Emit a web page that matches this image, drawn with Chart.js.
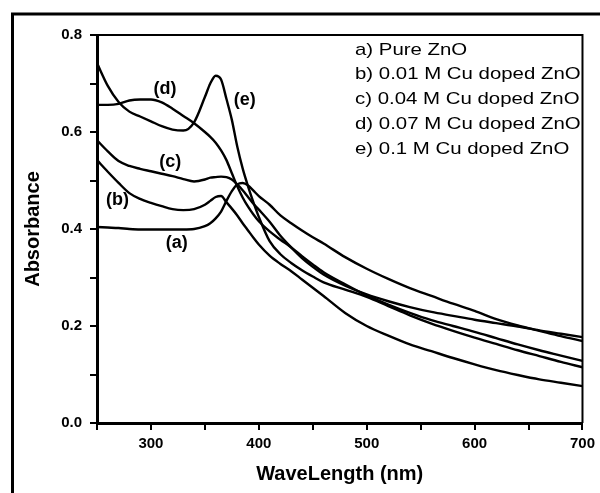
<!DOCTYPE html>
<html>
<head>
<meta charset="utf-8">
<script src="https://cdn.jsdelivr.net/npm/chart.js@4.4.1/dist/chart.umd.min.js"></script>
<style>
  html, body { margin: 0; padding: 0; background: #fff; }
  canvas { display: block; }
</style>
</head>
<body>
<canvas id="grafica" width="600" height="493"></canvas>
<script>
// longitud de onda (nm), comun a las cinco curvas
const wl = [250, 260, 270, 280, 290, 300, 310, 320, 330, 340, 350, 355, 360, 365, 370, 375, 380, 385, 390, 395,
            400, 410, 420, 430, 440, 450, 460, 480, 500, 520, 540, 560, 580, 600, 620, 640, 660, 680, 700];

// absorbancia
const absA = [0.404, 0.403, 0.402, 0.400, 0.399, 0.399, 0.399, 0.399, 0.399, 0.400, 0.406, 0.412, 0.422, 0.436, 0.458, 0.478, 0.492, 0.495, 0.490, 0.479,
              0.468, 0.450, 0.428, 0.412, 0.397, 0.383, 0.370, 0.342, 0.318, 0.297, 0.278, 0.262, 0.246, 0.231, 0.214, 0.201, 0.190, 0.179, 0.169];
const absB = [0.542, 0.518, 0.495, 0.474, 0.462, 0.454, 0.447, 0.441, 0.439, 0.441, 0.450, 0.458, 0.466, 0.468, 0.455, 0.442, 0.428, 0.412, 0.397, 0.382,
              0.368, 0.345, 0.328, 0.313, 0.296, 0.279, 0.262, 0.227, 0.200, 0.180, 0.162, 0.148, 0.134, 0.121, 0.109, 0.099, 0.090, 0.083, 0.076];
const absC = [0.583, 0.560, 0.540, 0.530, 0.524, 0.519, 0.514, 0.509, 0.503, 0.498, 0.502, 0.506, 0.507, 0.508, 0.507, 0.502, 0.492, 0.480, 0.466, 0.452,
              0.440, 0.415, 0.386, 0.362, 0.340, 0.322, 0.306, 0.283, 0.265, 0.251, 0.239, 0.229, 0.221, 0.213, 0.206, 0.199, 0.191, 0.184, 0.177];
const absD = [0.656, 0.656, 0.658, 0.665, 0.667, 0.667, 0.661, 0.648, 0.633, 0.618, 0.600, 0.590, 0.578, 0.562, 0.542, 0.515, 0.488, 0.465, 0.446, 0.430,
              0.416, 0.395, 0.378, 0.362, 0.344, 0.327, 0.311, 0.286, 0.263, 0.244, 0.227, 0.212, 0.200, 0.188, 0.175, 0.162, 0.150, 0.139, 0.128];
const absE = [0.742, 0.695, 0.662, 0.642, 0.632, 0.622, 0.612, 0.605, 0.603, 0.620, 0.672, 0.700, 0.716, 0.708, 0.668, 0.625, 0.570, 0.525, 0.488, 0.455,
              0.425, 0.375, 0.348, 0.330, 0.315, 0.302, 0.290, 0.275, 0.260, 0.241, 0.222, 0.205, 0.190, 0.176, 0.163, 0.150, 0.138, 0.126, 0.115];

const seriesNames = ['a) Pure ZnO', 'b) 0.01 M Cu doped ZnO', 'c) 0.04 M Cu doped ZnO', 'd) 0.07 M Cu doped ZnO', 'e) 0.1 M Cu doped ZnO'];
const seriesTags = ['(a)', '(b)', '(c)', '(d)', '(e)'];

// donde va cada letra, en unidades de los ejes (nm, absorbancia)
const tagSpots = [[324, 0.371], [269, 0.460], [318, 0.538], [313, 0.689], [387, 0.666]];

Chart.defaults.font.family = '"Liberation Sans", Arial, sans-serif';
Chart.defaults.color = '#000';

const toPoints = vals => wl.map((w, i) => ({ x: w, y: vals[i] }));

const extras = {
    id: 'extras',
    afterDraw(chart) {
        const { ctx, chartArea: a, scales: { x, y } } = chart;
        ctx.save();
        ctx.strokeStyle = '#000';
        ctx.fillStyle = '#000';

        // marco exterior (cortado a la derecha y abajo)
        ctx.lineWidth = 3;
        ctx.beginPath();
        ctx.moveTo(12.5, 493);
        ctx.lineTo(12.5, 14);
        ctx.lineTo(600, 14);
        ctx.stroke();

        // lados superior y derecho del recuadro
        ctx.lineWidth = 2;
        ctx.beginPath();
        ctx.moveTo(a.left, a.top);
        ctx.lineTo(a.right, a.top);
        ctx.lineTo(a.right, a.bottom);
        ctx.stroke();

        // letras junto a las curvas
        ctx.font = 'bold 18px "Liberation Sans"';
        ctx.textAlign = 'center';
        ctx.textBaseline = 'middle';
        seriesTags.forEach((t, i) => {
            ctx.fillText(t, x.getPixelForValue(tagSpots[i][0]), y.getPixelForValue(tagSpots[i][1]));
        });

        // leyenda de texto
        ctx.font = '17px "Liberation Sans"';
        ctx.textAlign = 'left';
        seriesNames.forEach((t, i) => {
            ctx.save();
            ctx.translate(a.left + 258, a.top + 15 + i * 24.8);
            ctx.scale(1.2, 1);
            ctx.fillText(t, 0, 0);
            ctx.restore();
        });
        ctx.restore();
    }
};

const curva = vals => ({
    data: toPoints(vals),
    borderColor: '#000',
    borderWidth: 2.4,
    pointRadius: 0,
    fill: false,
    cubicInterpolationMode: 'monotone'
});

new Chart(document.getElementById('grafica').getContext('2d'), {
    type: 'line',
    data: {
        datasets: [curva(absA), curva(absB), curva(absC), curva(absD), curva(absE)]
    },
    options: {
        responsive: false,
        animation: false,
        layout: { padding: { top: 35, right: 14, left: 0, bottom: 0 } },
        plugins: { legend: { display: false }, tooltip: { enabled: false } },
        scales: {
            x: {
                type: 'linear',
                min: 250,
                max: 700,
                afterFit: s => { s.height = 70; },
                border: { display: true, color: '#000', width: 3 },
                grid: { drawOnChartArea: false, drawTicks: true, tickLength: 7, color: '#000', lineWidth: 2 },
                ticks: {
                    stepSize: 50,
                    autoSkip: false,
                    maxRotation: 0,
                    padding: 5,
                    font: { size: 15, weight: 'bold' },
                    callback: v => (v % 100 === 0 ? String(v) : '')
                },
                title: {
                    display: true,
                    text: 'WaveLength (nm)',
                    font: { size: 20, weight: 'bold' },
                    padding: { top: 0, bottom: 7 }
                }
            },
            y: {
                min: 0,
                max: 0.8,
                afterFit: s => { s.width = 97; },
                border: { display: true, color: '#000', width: 3 },
                grid: { drawOnChartArea: false, drawTicks: true, tickLength: 7, color: '#000', lineWidth: 2 },
                ticks: {
                    stepSize: 0.1,
                    autoSkip: false,
                    padding: 8,
                    font: { size: 15, weight: 'bold' },
                    callback: v => (Math.round(v * 10) % 2 === 0 ? v.toFixed(1) : '')
                },
                title: {
                    display: true,
                    text: 'Absorbance',
                    font: { size: 20, weight: 'bold' },
                    padding: { top: 21, bottom: 0 }
                }
            }
        }
    },
    plugins: [extras]
});
</script>
</body>
</html>
